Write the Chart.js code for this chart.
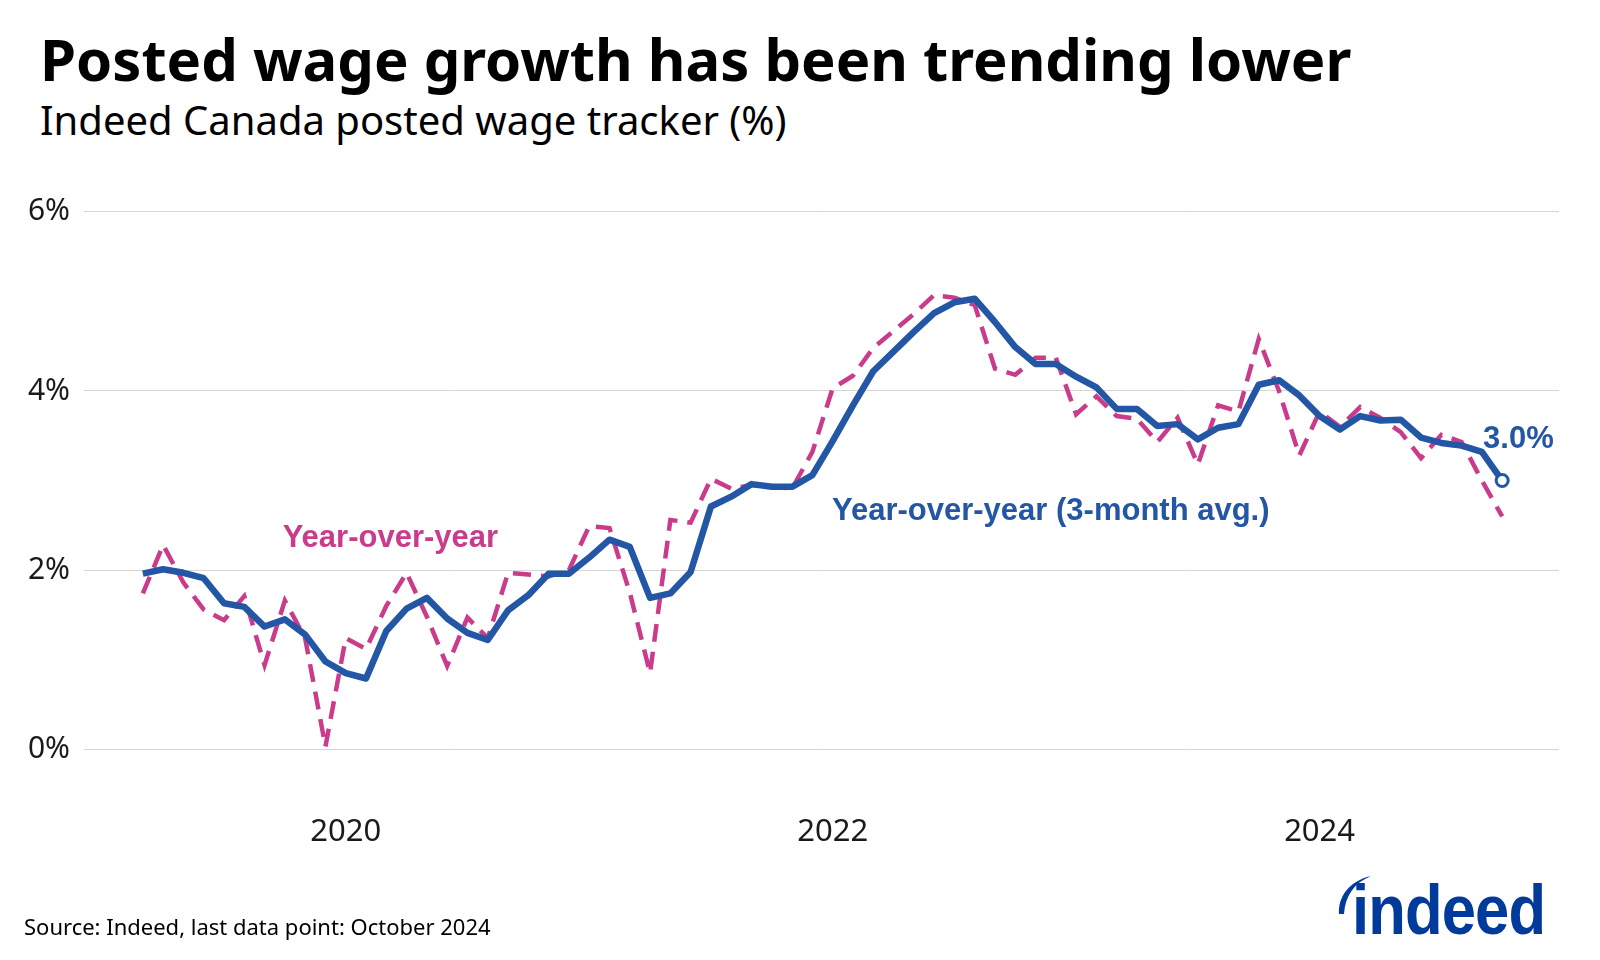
<!DOCTYPE html>
<html>
<head>
<meta charset="utf-8">
<script src="https://cdn.jsdelivr.net/npm/chart.js@4.4.1/dist/chart.umd.min.js"></script>
<style>
  html, body { margin: 0; padding: 0; background: #ffffff; }
  body { width: 1600px; height: 960px; position: relative; overflow: hidden; font-family: 'Noto Sans', sans-serif; }
  #title { position: absolute; left: 40px; top: 30px; font-size: 58px; font-weight: 700; color: #000; line-height: 1; white-space: nowrap; }
  #subtitle { position: absolute; left: 40px; top: 100px; font-size: 40px; font-weight: 400; color: #000; line-height: 1; white-space: nowrap; }
  #source { position: absolute; left: 24px; top: 915px; font-size: 22px; color: #000; line-height: 1; white-space: nowrap; }
  #logo { position: absolute; left: 1352px; top: 875px; font-family: 'Liberation Sans', Arial, sans-serif; font-weight: 700; font-size: 70px; letter-spacing: -1px; color: #003A9B; line-height: 1; transform: scaleX(0.88); transform-origin: 0 0; }
  #swoosh { position: absolute; left: 1331px; top: 872px; }
  #chart { position: absolute; left: 0; top: 0; }
</style>
</head>
<body>
<div id="title">Posted wage growth has been trending lower</div>
<div id="subtitle">Indeed Canada posted wage tracker (%)</div>
<canvas id="chart" width="1600" height="960"></canvas>
<div id="source">Source: Indeed, last data point: October 2024</div>
<svg id="swoosh" width="50" height="50" viewBox="0 0 50 50"><path d="M8 42 C 7 25, 18 9, 40 4 C 23 11, 14 24, 13 42 Z" fill="#003A9B"/></svg>
<div id="logo">indeed</div>
<script>
// ---- data ----
const months = [
  "2019-03","2019-04","2019-05","2019-06","2019-07","2019-08","2019-09","2019-10","2019-11","2019-12",
  "2020-01","2020-02","2020-03","2020-04","2020-05","2020-06","2020-07","2020-08","2020-09","2020-10","2020-11","2020-12",
  "2021-01","2021-02","2021-03","2021-04","2021-05","2021-06","2021-07","2021-08","2021-09","2021-10","2021-11","2021-12",
  "2022-01","2022-02","2022-03","2022-04","2022-05","2022-06","2022-07","2022-08","2022-09","2022-10","2022-11","2022-12",
  "2023-01","2023-02","2023-03","2023-04","2023-05","2023-06","2023-07","2023-08","2023-09","2023-10","2023-11","2023-12",
  "2024-01","2024-02","2024-03","2024-04","2024-05","2024-06","2024-07","2024-08","2024-09","2024-10"
];
const yoy = [
  1.74, 2.28, 1.86, 1.56, 1.44, 1.71, 0.94, 1.66, 1.24, 0.03,
  1.24, 1.12, 1.60, 1.97, 1.48, 0.93, 1.47, 1.24, 1.97, 1.95, 1.93, 2.00,
  2.49, 2.47, 1.75, 0.85, 2.56, 2.53, 3.02, 2.91, 2.95, 2.93, 2.91, 3.32,
  4.03, 4.17, 4.48, 4.67, 4.86, 5.07, 5.04, 4.96, 4.25, 4.18, 4.37, 4.37,
  3.74, 3.94, 3.72, 3.69, 3.43, 3.70, 3.18, 3.84, 3.77, 4.58, 4.00, 3.28,
  3.77, 3.60, 3.82, 3.70, 3.54, 3.25, 3.51, 3.43, 3.00, 2.60
];
const yoy3m = [
  1.96, 2.01, 1.97, 1.91, 1.63, 1.59, 1.37, 1.45, 1.28, 0.98,
  0.85, 0.79, 1.32, 1.57, 1.69, 1.46, 1.30, 1.22, 1.55, 1.72, 1.96, 1.96,
  2.14, 2.34, 2.26, 1.69, 1.74, 1.98, 2.71, 2.82, 2.96, 2.93, 2.93, 3.06,
  3.44, 3.84, 4.22, 4.44, 4.66, 4.87, 4.99, 5.03, 4.77, 4.49, 4.30, 4.30,
  4.16, 4.04, 3.80, 3.80, 3.61, 3.63, 3.46, 3.59, 3.63, 4.07, 4.12, 3.95,
  3.72, 3.57, 3.72, 3.67, 3.68, 3.48, 3.42, 3.39, 3.32, 3.00
];
const yTickValues = [0, 2, 4, 6];
const xTickYears = [2020, 2022, 2024];
const lastLabel = "3.0%";

// ---- styling ----
const BLUE = '#2356A5';
const MAGENTA = '#CA3C8B';

const monthIndex = (m) => { const p = m.split('-').map(Number); return (p[0] - 2019) * 12 + (p[1] - 1); };
const yearIndex = (y) => (y - 2019) * 12;

const annotations = [
  { text: 'Year-over-year', x: 14.2, y: 2.35, color: MAGENTA },
  { text: 'Year-over-year (3-month avg.)', x: 46.75, y: 2.66, color: BLUE },
  { text: lastLabel, x: 69.8, y: 3.46, color: BLUE }
];

const annotationPlugin = {
  id: 'annot',
  afterDatasetsDraw(chart) {
    const { ctx, scales: { x, y } } = chart;
    ctx.save();
    ctx.font = 'bold 31px "Liberation Sans", Arial, sans-serif';
    ctx.textAlign = 'center';
    ctx.textBaseline = 'middle';
    annotations.forEach(a => {
      ctx.fillStyle = a.color;
      ctx.fillText(a.text, x.getPixelForValue(a.x), y.getPixelForValue(a.y));
    });
    ctx.restore();
  }
};

const lastIdx = yoy3m.length - 1;

new Chart(document.getElementById('chart'), {
  type: 'line',
  data: {
    datasets: [
      {
        label: 'Year-over-year (3-month avg.)',
        data: months.map((m, i) => ({ x: monthIndex(m), y: yoy3m[i] })),
        borderColor: BLUE,
        borderWidth: 6.5,
        borderJoinStyle: 'round',
        tension: 0,
        pointRadius: (c) => c.dataIndex === lastIdx ? 6 : 0,
        pointHoverRadius: (c) => c.dataIndex === lastIdx ? 6 : 0,
        pointBackgroundColor: '#ffffff',
        pointBorderColor: BLUE,
        pointBorderWidth: 3,
        clip: false
      },
      {
        label: 'Year-over-year',
        data: months.map((m, i) => ({ x: monthIndex(m), y: yoy[i] })),
        borderColor: MAGENTA,
        borderWidth: 4.5,
        borderDash: [18, 10],
        tension: 0,
        pointRadius: 0,
        pointHoverRadius: 0,
        clip: false
      }
    ]
  },
  options: {
    responsive: false,
    animation: false,
    layout: { padding: { top: 176, right: 41, bottom: 97, left: 0 } },
    plugins: { legend: { display: false }, tooltip: { enabled: false } },
    scales: {
      x: {
        type: 'linear',
        min: -0.9,
        max: 71.8,
        grid: { display: false, drawTicks: false },
        border: { display: false },
        afterBuildTicks: (s) => { s.ticks = xTickYears.map(yr => ({ value: yearIndex(yr) })); },
        afterFit: (s) => { s.height = 60; },
        ticks: {
          padding: 11,
          autoSkip: false,
          maxRotation: 0,
          color: '#1a1a1a',
          font: { family: "'Noto Sans', sans-serif", size: 31 },
          callback: (v) => String(2019 + Math.round(v / 12))
        }
      },
      y: {
        min: -0.6,
        max: 6.4,
        grid: { color: '#d6d6d6', lineWidth: 1, drawTicks: false },
        border: { display: false },
        afterBuildTicks: (s) => { s.ticks = yTickValues.map(v => ({ value: v })); },
        afterFit: (s) => { s.width = 84; },
        ticks: {
          padding: 14,
          color: '#1a1a1a',
          font: { family: "'Noto Sans', sans-serif", size: 30 },
          callback: (v) => v + '%'
        }
      }
    }
  },
  plugins: [annotationPlugin]
});
</script>
</body>
</html>
